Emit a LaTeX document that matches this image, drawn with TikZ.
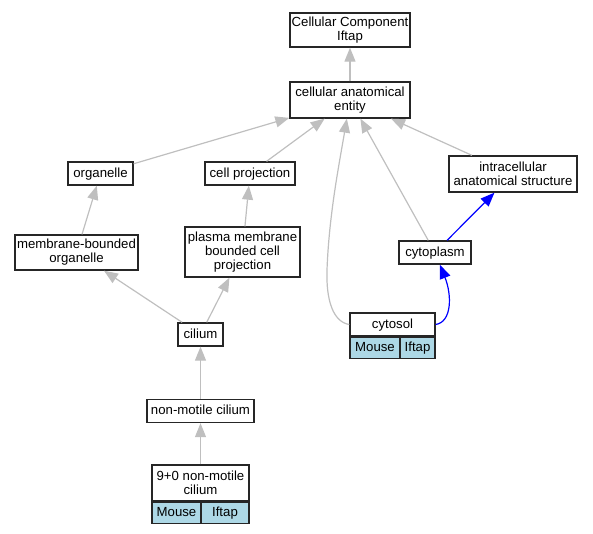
\documentclass[tikz,border=0pt]{standalone}
\usepackage{fontspec}
\setmainfont{Liberation Sans}
\usetikzlibrary{arrows.meta,positioning,calc}
\definecolor{tagblue}{HTML}{ADD8E6}

\begin{document}
\begin{tikzpicture}[x=0.75pt,y=-0.75pt,
  term/.style={draw=black!85, line width=1pt, fill=white, align=center, inner sep=1pt,
    font=\fontsize{9.9}{10.6}\selectfont, minimum height=17.25pt},
  oneline/.style={text height=7.2pt, text depth=1.6pt},
  tag/.style={term, oneline, fill=tagblue, minimum height=15.75pt},
  isa/.style={draw=black!25, line width=0.9pt, -{Triangle[length=10.5pt,width=8.25pt]}},
  partof/.style={isa, draw=blue}]
  \useasboundingbox (0,0) rectangle (593,533);
  \node[term, minimum width=90pt, minimum height=25.5pt] (cc) at (350,30) {Cellular Component\\Iftap};
  \node[term, minimum width=90pt, minimum height=27pt] (cae) at (350,100) {cellular anatomical\\entity};
  \node[term, oneline, minimum width=48.75pt] (org) at (100.5,173.5) {organelle};
  \node[term, oneline, minimum width=67.5pt] (cp) at (250,173.5) {cell projection};
  \node[term, minimum width=96pt, minimum height=27pt] (ias) at (513,174) {intracellular\\anatomical structure};
  \node[term, minimum width=92.25pt, minimum height=26.25pt] (mbo) at (76.5,252.5) {membrane-bounded\\organelle};
  \node[term, minimum width=86.25pt, minimum height=37.5pt] (pmbcp) at (242.5,252) {plasma membrane\\bounded cell\\projection};
  \node[term, oneline, minimum width=54pt] (cyto) at (435,252.5) {cytoplasm};
  \node[term, oneline, minimum width=63.75pt] (cytosol) at (392.5,324.5) {cytosol};
  \node[tag, anchor=north west, minimum width=37.5pt] (cytosolM) at (cytosol.south west) {Mouse};
  \node[tag, anchor=north east, minimum width=26.25pt] (cytosolI) at (cytosol.south east) {Iftap};
  \node[term, oneline, minimum width=33.75pt] (cil) at (200.5,334.5) {cilium};
  \node[term, oneline, minimum width=80.25pt] (nmc) at (200.5,411) {non-motile cilium};
  \node[term, minimum width=72.75pt, minimum height=27pt] (nmc90) at (200.5,483) {9+0 non-motile\\cilium};
  \node[tag, anchor=north west, minimum width=36.75pt] (nmc90M) at (nmc90.south west) {Mouse};
  \node[tag, anchor=north east, minimum width=36pt] (nmc90I) at (nmc90.south east) {Iftap};
  \draw[isa] (cae) -- (cc);
  \draw[isa] (org) -- (cae);
  \draw[isa] (cp) -- (cae);
  \draw[isa] (cyto) -- (cae);
  \draw[isa] (ias) -- (cae);
  \draw[isa] (cytosol.west) .. controls (333,322) and (326,300) .. (327,270)
    .. controls (329,215) and (339,165) .. (cae);
  \draw[isa] (mbo) -- (org);
  \draw[isa] (pmbcp) -- (cp);
  \draw[isa] (cil) -- (mbo);
  \draw[isa] (cil) -- (pmbcp);
  \draw[isa] (nmc) -- (cil);
  \draw[isa] (nmc90) -- (nmc);
  \draw[partof] (cyto) -- (ias);
  \draw[partof] (cytosol.east) .. controls (452,322) and (452,295) .. (cyto);
\end{tikzpicture}
\end{document}
